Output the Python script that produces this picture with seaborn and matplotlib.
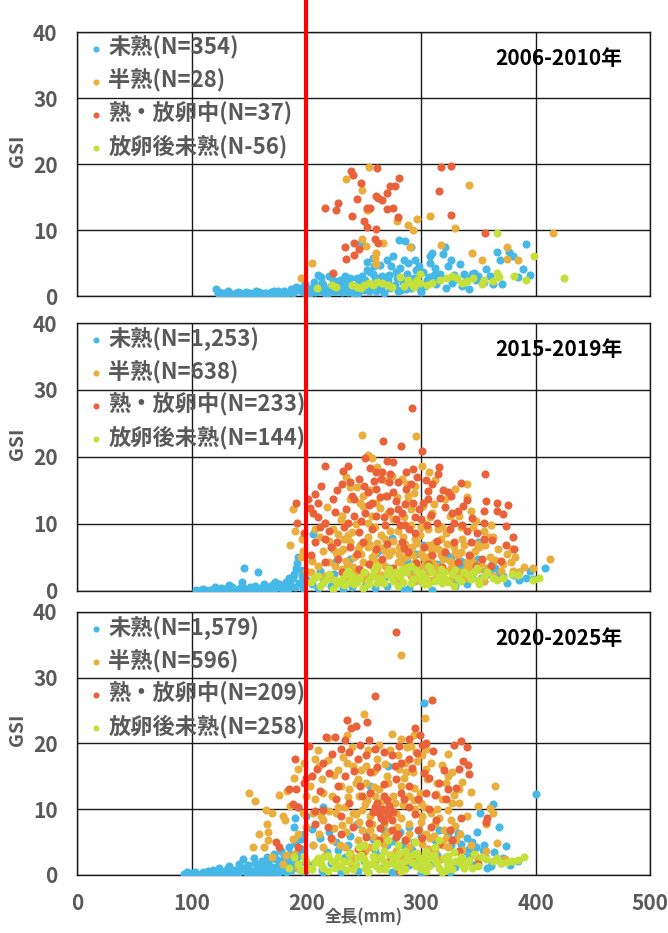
import matplotlib
matplotlib.use("Agg")
import pandas as pd
import matplotlib.pyplot as plt
import matplotlib.transforms as mtransforms
import seaborn as sns

# stage names / colours
stages = ["未熟", "半熟", "熟・放卵中", "放卵後未熟"]
colors = ["#45B8E8", "#E9AE3C", "#E9623A", "#C6E03A"]

periods = ["2006-2010年", "2015-2019年", "2020-2025年"]
legend_n = [
    ["(N=354)", "(N=28)", "(N=37)", "(N-56)"],
    ["(N=1,253)", "(N=638)", "(N=233)", "(N=144)"],
    ["(N=1,579)", "(N=596)", "(N=209)", "(N=258)"],
]

# ---- 2006-2010 (total length mm, GSI) ----
p1_imm = [(121,1.0),(123,0.4),(125,0.2),(127,0.5),(129,0.3),(131,0.2),(133,0.4),(135,0.3),(137,0.2),(139,0.5),
          (141,0.3),(143,0.4),(145,0.2),(147,0.6),(149,0.3),(151,0.4),(153,0.2),(155,0.5),(157,0.3),(159,0.6),
          (161,0.2),(163,0.4),(165,0.5),(167,0.3),(169,0.6),(171,0.4),(173,0.3),(175,0.7),(177,0.5),(179,0.4),
          (181,0.8),(183,0.5),(185,0.6),(187,1.0),(189,0.7),(191,1.4),(193,0.9),(195,1.2),(197,0.6),(199,1.8),
          (206,1.4),(210,3.2),(213,2.9),(214,2.0),(218,0.9),(220,3.0),(226,0.7),(229,2.4),(232,2.2),(235,1.2),
          (238,2.7),(241,0.5),(244,2.7),(247,2.0),(248,8.0),(250,0.9),(253,5.2),(253,4.0),(253,1.7),(257,1.2),
          (258,5.7),(260,1.9),(260,2.9),(261,0.7),(258,3.4),(264,4.7),(267,1.9),(270,5.5),(272,3.2),(273,1.2),
          (276,6.1),(277,1.7),(279,2.7),(281,8.5),(282,4.2),(285,5.5),(286,8.3),(288,3.4),(291,7.5),(291,1.2),
          (292,1.9),(295,5.5),(296,3.9),(302,3.7),(307,2.9),(308,5.0),(308,6.1),(310,6.5),(311,3.2),(317,3.4),
          (319,6.4),(321,7.5),(324,4.5),(329,3.2),(334,4.8),(345,3.3),(346,3.5),(350,3.0),(357,4.1),(366,6.6),
          (369,5.5),(371,1.8),(377,6.6),(380,6.0),(385,2.9),(389,4.1),(392,7.9),(395,3.2),
          (201,0.5),(203,1.0),(208,0.6),(212,1.2),(216,0.4),(222,1.5),(224,0.8),(230,1.0),(236,0.6),(243,1.5),
          (265,1.0),(283,0.9),(299,1.1),(304,1.5),(313,1.8),(327,2.0),(336,1.5),(340,2.6),(355,2.2),
          (203,0.4),(207,2.2),(211,0.8),(215,1.6),(219,0.5),(223,2.5),(227,1.8),(231,0.6),(234,3.0),(237,1.8),
          (240,1.0),(245,0.4),(249,3.0),(251,2.4),(255,0.8),(256,3.6),(259,4.5),(262,1.5),(266,3.0),(268,0.5),
          (271,2.4),(274,4.5),(278,3.6),(280,0.8),(284,2.2),(287,1.0),(289,5.0),(294,2.8),(298,4.6),(300,0.6),
          (305,2.4),(312,4.2),(315,2.6),(322,1.2),(326,5.5),(331,2.6),(338,3.4),(342,1.0),(348,2.4),(360,3.0),
          (363,1.8),(124,0.6),(132,0.7),(140,0.6),(148,0.2),(156,0.7),(164,0.2),(172,0.7),(180,0.3),(188,0.4)]
p1_half = [(195,2.8),(204.6,5.0),(235,17.8),(254.6,19.6),(249,16.1),(254,13.1),(249,8.6),(252,7.6),(252.6,13.0),
           (279,11.3),(289,10.8),(293,10.0),(297,11.7),(308,12.2),(342,16.8),(330,10.3),(267,8.1),(260.5,6.5),
           (260,5.7),(261,4.8),(290.6,7.5),(317.5,7.7),(345,6.5),(353,5.5),(375,7.5),(375,5.6),(385,5.5),(415,9.5)]
p1_ripe = [(238.6,19.0),(241,18.3),(248,17.1),(244,14.7),(228,14.1),(226,13.1),(216,13.4),(240,12.1),(250,11.4),
           (253,10.5),(253,13.4),(242,8.1),(234,7.5),(246,7.1),(242,6.2),(235,5.6),(223,3.5),(262,19.4),(281,17.9),
           (273,16.7),(277,16.7),(270,15.6),(260.5,15.2),(263,14.8),(266,14.5),(255.5,13.4),(270,13.2),(276,13.4),
           (280,12.0),(260.5,10.2),(260,8.6),(263,8.1),(317.5,19.6),(326,19.7),(316,15.9),(326,12.3),(355.5,9.6)]
p1_post = [(209,1.2),(222.5,1.7),(226,1.3),(240,1.7),(244,1.4),(250,1.7),(255,1.9),(258.5,1.7),(266,2.0),(271,1.7),
           (274.6,1.4),(282,2.9),(289,2.4),(292,1.8),(299.4,3.3),(299.4,1.9),(305,1.7),(317,2.5),(323,2.7),(327,3.0),
           (331.6,2.7),(340,2.3),(345.6,2.8),(355,2.5),(353,1.8),(363,2.3),(366,3.5),(368,2.9),(381,3.0),(392,2.4),
           (399,6.0),(366,9.6),(424.6,2.7),(296.5,2.4),(294,1.4),(248,1.2),(262,2.2),(285,1.5),(310,2.0),(336,2.0)]

# ---- 2015-2019 ----
p2_imm = [(104,0.1),(108,0.1),(112,0.2),(116,0.1),(120,0.6),(124,0.2),(128,0.3),(131,0.5),(133,0.9),(136,0.3),
          (139,0.2),(142,0.4),(144,1.3),(146,3.5),(148,0.3),(151,0.6),(153,0.2),(156,0.4),(158,2.9),(160,0.5),
          (162,0.2),(164,0.7),(166,0.3),(168,0.5),(170,0.9),(172,0.2),(174,0.6),(176,1.1),(178,0.4),(180,0.8),
          (182,1.4),(184,0.3),(186,1.0),(188,1.9),(190,0.6),(191,3.4),(192,4.2),(193,5.0),(194,1.2),(196,2.2),
          (197,0.5),(198,1.5),(199,2.8),
          (110,0.3),(118,0.2),(126,0.5),(135,0.6),(145,0.4),(155,0.8),(163,1.0),(173,1.3),(181,0.3),(185,2.0),
          (189,2.6),(195,3.2),(200,1.8),
          (206,8.5),(205,1.0),(210,0.5),(212,3.0),(218,2.0),(222,0.8),(226,4.5),(230,1.5),(235,3.5),(240,0.6),
          (244,5.5),(248,2.5),(252,1.0),(256,4.0),(260,0.5),(263,6.0),(268,2.0),(272,3.5),(275,7.9),(280,1.2),
          (285,0.2),(288,4.5),(292,2.8),(296,5.5),(300,1.5),(305,3.0),(310,0.2),(314,4.0),(318,2.0),(322,5.5),
          (328,1.5),(332,3.8),(338,2.5),(344,4.3),(349.5,7.3),(352,2.0),(356,3.0),(359,2.5),(365,3.5),(366,1.8),
          (372,2.2),(386,1.7),(386,2.8),(398,1.8),(408,3.4),(340,1.0),(350,4.8),(346,3.2),(362,4.0),(335,4.5),
          (330,0.8),(338,3.5),(345,2.0),(355,1.5),(360,3.2),(368,2.6),(375,1.2),(380,2.4),(392,2.0),(395,3.0),
          (290,0.4),(270,0.8),(250,0.6),(232,0.3),(215,1.8),(224,2.6),(238,4.8),(261,5.6),(283,6.2),(302,6.8),
          (326,5.0),(316,3.4)]
p2_half = [(249,23.3),(296,23.1),(254,20.3),(257,19.9),(301,18.7),(307,17.7),(340,16.0),(234.7,17.0),(244,15.5),
           (268.6,16.5),(283.6,16.7),(295,15.7),(238.4,13.7),(249.7,14.2),(261,13.2),(289,13.5),(302,12.7),
           (321,13.7),(340,14.0),(344,12.0),(325,11.2),(308,11.0),(291,12.2),(276,10.7),(253.5,10.2),(231,11.2),
           (216,10.2),(208,9.3),(188,12.2),(185.7,6.9),(197,6.0),(195,5.0),(345.8,9.5),(361,9.8),(367,6.3),
           (379.6,6.3),(382,5.0),(379,4.3),(386,2.8),(398,3.4),(412.8,4.8),(362.7,8.0),(351,6.5),(336,7.8),
           (219.6,4.3),(227,5.3),(234.7,4.5),(242,5.0),(249.7,4.3),(257,5.0),(265,4.5),(272,5.3),(280,4.3),
           (287,5.0),(295,4.3),(302,5.0),(310,4.3),(317.5,5.3),(325,4.5),(332.6,5.3),(340,4.3),(223,6.3),
           (238.4,7.3),(253.5,6.5),(268.6,7.8),(281,6.5),(295,7.8),(306,6.8),(317.5,7.8),(329,6.5),(231,3.3),
           (246,2.3),(261,2.8),(276,3.0),(291,2.3),(306,2.8),(321,3.0),(336,2.5),(216,2.3),(204.5,2.8),(210,3.8),
           (268.6,3.8),(298.6,3.5),(329,3.3),(351,3.3),(362.7,2.3),(291,9.8),(306,9.3),(265,8.3),(236.5,8.3),
           (223,9.3),(359,8.0),(344,5.3),(289,14.2),(268.6,14.2),(249.7,12.7),(257,11.2),(310,11.7),
           (230,6.0),(245,6.2),(260,5.8),(275,6.0),(290,6.0),(300,5.7),(315,6.2),(262,3.5),(285,3.6),(313,3.4),
           (220,7.5),(225,3.8),(228,8.5),(232,6.2),(236,4.0),(240,8.8),(243,3.2),(247,6.8),(251,2.7),(254,8.0),
           (258,3.6),(262,7.1),(266,2.4),(269,5.9),(273,8.9),(277,2.6),(281,5.5),(284,8.1),(288,3.1),(292,6.6),
           (296,2.0),(299,8.4),(303,3.9),(307,5.2),(311,7.2),(314,2.5),(318,6.0),(322,8.6),(326,3.5),(330,5.6),
           (334,2.9),(338,6.9),(342,3.8),(347,5.9),(352,4.2),(356,6.8),(360,5.0),(365,4.6),(370,3.0),(375,5.5),
           (230,10.6),(238,15.5),(247,13.2),(256,15.0),(264,12.4),(271,11.6),(279,14.0),(285,11.0),(294,14.6),
           (302,10.2),(311,13.0),(318,9.6),(333,11.2),(348,10.5),(355,9.0),(262,18.5),(275,17.2),(288,16.0),
           (312,16.5),(330,15.2),(222,2.0),(235,1.5),(250,1.8),(265,1.4),(280,1.9),(295,1.5),(310,1.7),(325,1.6),
           (340,1.9),(355,1.5),(372,4.0),(380,3.0),(390,3.6),(205,4.5),(200,3.0),(215,6.0),(212,8.0),(196,7.8),
           (190,9.0),(218,12.5),
           (226,5.8),(233,7.8),(241,3.6),(248,5.5),(255,7.0),(259,4.6),(267,6.4),(271,3.2),(276,7.4),(283,4.6),
           (286,7.0),(293,5.4),(297,7.2),(304,4.6),(309,6.2),(313,3.8),(319,4.8),(323,7.0),(328,4.0),(335,5.8),
           (339,3.3),(345,4.4),(349,7.0),(358,3.5),(243,10.0),(260,9.6),(280,9.0),(300,9.5),(315,9.2),(335,9.6)]
p2_ripe = [(292,27.3),(266.7,22.4),(282.9,21.7),(301,20.9),(216.6,18.7),(232,17.9),(255.7,18.3),(261,17.7),
           (266,17.7),(276,19.2),(293,18.2),(315.6,18.5),(314.5,17.4),(356,17.5),(296.8,17.0),(304.4,16.5),
           (335,16.1),(324,14.8),(326,14.2),(306,14.9),(306,13.8),(317,13.9),(357,13.4),(366.5,13.1),(366.5,12.0),
           (337,12.7),(332.6,12.0),(321.3,12.5),(190.6,13.2),(208,14.5),(201.5,13.7),(210,13.2),(206,11.7),
           (210,11.0),(192,10.2),(223,13.7),(227,15.0),(231,16.0),(238,16.2),(246,16.7),(250,15.7),(253.5,14.7),
           (261,15.2),(270,14.2),(276,14.7),(280,16.2),(287,15.2),(280,12.2),(273,12.0),(283.6,11.7),(295,11.0),
           (300.5,10.7),(313.7,10.2),(325,9.3),(329,10.2),(340,9.0),(374,9.7),(355,10.2),(374,6.9),(370,4.5),
           (381.5,6.3),(234.7,12.2),(242,11.2),(236.5,10.2),(251.6,11.7),(261,11.2),(268.6,9.8),(257,9.3),
           (245.9,8.8),(219.6,9.0),(216,7.8),(227,7.3),(238,6.5),(249.7,7.3),(261,6.3),(270,7.0),(283.6,7.3),
           (289,5.8),(303,6.5),(310,5.3),(321,5.8),(332.6,4.3),(342,5.3),(353,4.8),(361,3.8),(204.5,5.3),
           (216,4.3),(231,2.8),(246,3.3),(257,2.3),(329,7.3),(344,7.3),(355,7.8),(290,9.3),(293,13.2),
           (272,16.2),(265,16.7),(257,13.2),(242,13.7),(216,10.2),(208,7.3),(302,13.2),(278,10.7),(286,9.8),
           (225,11.8),(233,9.6),(240,14.2),(248,10.4),(255,12.8),(259,16.4),(264,14.0),(268,11.0),(273,17.4),
           (278,13.4),(282,9.8),(286,13.0),(291,15.9),(295,8.6),(298,12.3),(305,9.9),(309,11.4),(314,7.5),
           (319,15.0),(327,11.6),(336,9.8),(345,10.9),(349,8.6),(362,7.6),(228,4.7),(244,5.5),(255,4.0),(266,4.8),
           (276,3.5),(285,6.4),(296,4.2),(306,4.0),(318,3.6),(330,3.0),(348,3.8),(222,6.5),(212,9.6),(198,8.6),
           (203,12.4),(213,15.6),(236,18.6),(251,19.8),(270,19.4),(287,17.8),(310,16.0),(340,13.6),(355,12.0),
           (372,11.5),(380,8.0),(376,12.8)]
p2_post = [(204.5,1.3),(212,0.8),(217.7,1.8),(227,1.0),(231,1.8),(238.4,1.3),(246,2.0),(253.5,1.5),(257,2.3),
           (265,1.8),(270,2.5),(276,1.5),(281.7,2.3),(287,2.8),(293,1.8),(298.6,2.5),(304.4,2.0),(310,2.8),
           (315.6,2.3),(321,1.8),(327,2.5),(332.6,2.0),(338,2.8),(344,1.8),(348.5,3.5),(355,2.3),(379.6,2.5),
           (402.6,1.9),(261,3.8),(283.6,3.3),(317.5,3.3),(223,0.3),(249.7,0.5),(280,0.8),(306,1.0),(329,0.8),
           (210,2.3),(234.7,2.5),(291,3.8),(306,3.8),(351,1.0),(362.7,2.0),(242,1.0),(262,1.2),(300,1.6),(318,1.2),
           (207,2.0),(215,1.2),(220,2.6),(225,1.6),(233,0.9),(236,3.0),(240,2.2),(244,1.4),(250,2.8),(255,1.0),
           (259,3.1),(263,2.0),(268,1.2),(272,3.3),(274,2.1),(278,2.9),(284,1.4),(289,3.6),(291,1.2),(296,3.1),
           (301,2.7),(303,1.1),(308,3.4),(312,1.5),(317,2.1),(320,2.9),(324,1.3),(330,3.2),(335,1.5),(341,2.4),
           (346,2.9),(350,1.6),(358,2.8),(366,1.7),(372,2.0),(385,2.4),(398,1.6)]

# ---- 2020-2025 ----
p3_imm = [(93,0.2),(96,0.4),(99,0.3),(103,0.5),(108,0.1),(112,0.2),(116,0.4),(119,0.8),(122,0.3),(125,0.6),
          (128,0.2),(131,0.9),(134,0.4),(137,0.7),(140,0.3),(143,1.0),(145,2.5),(147,0.5),(149,1.5),(151,0.8),
          (153,0.3),(155,1.8),(157,1.1),(159,0.5),(161,2.2),(163,1.3),(165,0.6),(167,1.9),(169,0.9),(171,2.6),
          (173,0.4),(175,1.4),(177,2.1),(179,0.8),(181,3.0),(183,1.6),(185,4.2),(187,0.7),(189,2.4),(191,1.2),
          (193,3.6),(195,5.5),(197,0.6),(199,2.0),(110,0.5),(127,0.5),(139,0.6),(152,0.4),(164,0.3),(176,0.5),
          (186,1.8),(105,0.2),(114,0.6),(118,0.2),(124,1.0),(130,0.4),(133,1.3),(136,0.2),(141,1.6),(146,1.0),
          (150,0.3),(154,2.6),(156,0.4),(160,1.4),(162,0.3),(166,2.8),(168,0.4),(170,1.2),(172,3.2),(174,2.4),
          (176,0.9),(178,3.6),(180,1.8),(182,0.5),(184,2.6),(186,3.2),(188,1.4),(190,4.8),(192,2.8),(194,0.9),
          (196,3.9),(198,6.2),(200,0.8),
          (203,1.5),(206,4.5),(210,2.5),(214,0.7),(218,3.5),(222,1.8),(226,5.0),(230,0.5),(234,2.8),
          (238,6.0),(242,1.2),(246,4.0),(250,2.2),(254,0.4),(258,5.5),(262,3.0),(266,1.0),(270,4.5),(274,2.0),
          (278,0.3),(282,6.5),(286,3.5),(290,1.5),(294,5.0),(298,2.5),(302,0.8),(306,4.0),(310,1.8),(314,3.0),
          (318,0.5),(322,2.8),(326,4.5),(330,1.2),(334,3.5),(338,2.0),(342,4.0),(346,1.5),(350,2.5),(354,3.8),
          (358,1.0),(362,2.0),(370,1.8),(378,1.5),(330,5.5),(345,5.0),(355,4.5),
          (205,7.0),(212,5.6),(220,6.5),(228,3.8),(236,4.6),(244,7.8),(252,6.2),(260,3.8),(268,6.8),(276,5.2),
          (284,4.5),(292,3.8),(300,6.0),(308,2.6),(316,6.8),(324,1.6),(332,6.4),(340,5.6),(348,4.2),(356,2.8),
          (364,3.5),(372,2.6),(215,0.4),(245,0.6),(275,0.5),(300,0.3),(325,0.4),
          (400,12.3),(303,26.2),(362.7,10.8),(351.5,9.4),(368.4,7.3),(349,6.6),(374,4.4),(384.4,2.2),(361,1.4),
          (342,2.7),(192.6,10.4),(190,8.7),(188.9,7.3),(200,8.9),(215,10.4),(256,13.5),(271,16.6),(312,5.3),
          (289.8,7.3),(323.5,6.3),(334.7,4.7),(338,3.7)]
p3_half = [(282.3,33.5),(250.6,24.5),(304,23.9),(274.9,21.5),(283,20.7),(293.6,21.3),(288,19.5),(295.4,18.7),
           (301,18.2),(304.8,19.2),(323.5,18.4),(218.8,20.9),(235.6,21.3),(263.6,19.7),(207.6,17.7),(211.2,16.6),
           (235.6,17.1),(241,16.6),(252.4,16.6),(258,15.6),(269,16.9),(280.5,16.1),(292.8,15.6),(304.8,16.1),
           (314,14.0),(321.6,14.0),(332.8,13.0),(364.6,13.5),(332.8,10.9),(323.5,9.9),(308.5,9.4),(299,12.5),
           (289.8,12.0),(282.3,13.5),(271,14.0),(263.6,13.0),(252.4,14.0),(245,14.6),(237.5,13.0),(230,13.5),
           (222.5,12.0),(215,12.5),(207.6,11.5),(205.7,9.4),(215,8.4),(226,9.4),(233.7,10.4),(241,9.4),(248.7,9.9),
           (256,8.9),(267.4,7.8),(278.6,9.4),(289.8,7.8),(301,8.9),(312,7.8),(319.8,6.8),(325,6.8),(331,5.3),
           (362.7,9.4),(357,7.8),(373,2.4),(149.6,12.5),(155,11.2),(158.9,6.3),(166.3,6.6),(165.6,7.8),(164.5,9.9),
           (170,9.4),(179.5,8.9),(181.4,8.4),(175.8,12.2),(183,12.7),(188.9,14.8),(192.6,16.1),(198,17.1),
           (166.4,5.3),(162.7,4.2),(153.3,4.2),(170,2.7),(179.5,1.7),(188.9,3.2),(192.6,6.3),(200,7.3),(211.2,6.3),
           (222.5,5.3),(233.7,4.2),(245,5.3),(256,4.2),(267.4,4.7),(278.6,3.7),(289.8,4.2),(301,4.7),(312,3.7),
           (323.5,4.2),(304.8,6.3),(327,10.9),(327,15.6),(260,12.0),(286,17.1),(237.5,8.4),(256,6.8),(192.6,1.1),
           (317.8,2.4),(357,3.7),(228,16.0),(246,12.0),(272,10.5),(295,10.0),(318,11.5),(260,16.0),(285,14.8),
           (203,13.5),(210,19.0),(214,14.6),(219,17.5),(224,15.2),(228,10.3),(232,17.9),(236,11.8),(240,19.4),
           (243,14.0),(248,16.0),(251,10.8),(254,19.0),(259,13.4),(262,17.6),(266,11.2),(270,15.0),(273,19.0),
           (276,12.0),(280,18.2),(284,10.6),(287,15.6),(291,19.6),(294,13.2),(297,17.4),(300,11.0),(305,14.6),
           (309,17.0),(313,12.3),(318,16.8),(324,15.0),(329,12.1),(336,14.2),(344,12.6),(350,10.5),(360,10.2),
           (206,4.5),(213,8.9),(218,3.0),(224,7.2),(229,4.6),(235,6.5),(240,2.8),(246,8.0),(251,3.6),(257,7.8),
           (262,2.8),(268,6.0),(273,3.0),(279,7.3),(284,2.6),(290,6.3),(295,3.0),(300,8.0),(306,4.0),(311,6.0),
           (316,8.6),(322,5.6),(330,7.5),(336,3.8),(344,4.6),(350,2.6),(366,4.8),(188,5.5),(182,3.0),(197,9.5),
           (200,12.0),(186,10.5),
           (215,4.2),(220,9.8),(231,7.6),(238,3.4),(243,9.2),(249,6.8),(253,11.4),(259,5.8),(265,9.0),(271,6.6),
           (277,11.0),(283,8.6),(288,5.4),(294,11.4),(298,6.8),(303,10.4),(308,5.6),(314,10.0),(319,4.6),(326,8.4),
           (334,6.2),(340,9.0)]
p3_ripe = [(277.9,37.0),(260,27.2),(310,26.6),(253,23.3),(235.6,23.6),(238.6,22.3),(243,22.6),(294.7,22.4),
           (289.8,20.7),(299,21.3),(301,19.7),(304.8,20.0),(334.7,20.3),(329,19.8),(336.5,17.4),(341,16.7),
           (342,15.3),(332.8,16.1),(217.6,21.0),(225,21.0),(202.7,19.6),(190,17.7),(185,13.0),(188,10.8),
           (193,10.4),(200,14.8),(205,15.1),(209.4,16.1),(215,17.1),(222.5,18.4),(230,19.2),(237.5,18.7),
           (245,17.7),(252.4,18.2),(260,19.2),(267.4,18.7),(275,18.2),(282.3,17.1),(289.8,17.7),(310.4,18.8),
           (306.7,14.8),(316,14.0),(323.5,13.0),(331,13.3),(321.6,11.5),(334.7,8.6),(357,8.1),(358,8.6),
           (304.8,12.5),(297.3,11.5),(289.8,10.4),(267.4,9.9),(260,10.4),(263.6,9.4),(271,9.1),(265.5,8.6),
           (275,8.4),(256,12.5),(248.7,12.0),(237.5,10.9),(226,11.5),(215,9.9),(207.6,7.8),(218.8,7.3),(230,6.3),
           (241,7.3),(252.4,5.8),(263.6,5.3),(275,6.8),(286,5.3),(297.3,6.8),(308.5,7.3),(316,4.7),(327,5.3),
           (346,3.2),(349.7,1.7),(246.8,13.5),(233.7,15.1),(256,15.6),(278.6,14.6),(289.8,13.5),(282.3,12.5),
           (267.4,12.0),(278,5.8),(192.6,4.2),(175.8,4.2),(174,5.0),(280.5,0.6),(248.7,3.2),(304.8,3.2),(260,2.2),
           (212,12.8),(220,15.5),(228,13.6),(234,20.5),(242,15.8),(247,19.8),(255,20.6),(262,16.4),(268,13.8),
           (272,10.5),(277,16.5),(281,19.6),(285,11.6),(292,16.2),(297,18.6),(303,15.5),(307,10.0),(312,12.2),
           (320,16.0),(340,19.4),(262,11.0),(266,10.0),(270,11.4),(268,8.2),(273,10.0),(258,9.6),(276,9.6),
           (264,7.2),(280,6.2),(255,7.9),(230,9.0),(222,5.6),(245,4.0),(295,9.2),(301,5.6),(313,8.4),(325,6.8),
           (333,3.6),(292,2.8),(240,1.6),(270,2.0),(285,1.2),(208,9.8),(198,14.0),(191,13.0)]
p3_post = [(390,2.8),(379.6,2.2),(362.7,2.2),(357,2.4),(346.7,3.2),(338,1.1),(331,2.2),(323.5,1.7),(316,1.1),
           (318,0.4),(316,5.3),(308.5,2.7),(301,1.9),(293.6,3.2),(286,2.2),(278.6,2.7),(271,1.7),(267.4,3.7),
           (260,2.4),(252.4,1.7),(254,0.4),(245,2.7),(237.5,1.9),(230,1.4),(222.5,2.2),(215,1.1),(207.6,1.9),
           (202,1.1),(192.6,1.7),(185,1.1),(188.9,2.7),(215,2.7),(237.5,3.2),(260,4.2),(271,5.3),(286,3.7),
           (304.8,3.7),(323.5,2.9),(334.7,2.7),(349.7,1.4),(218.8,0.6),(241,0.9),(263.6,0.9),(286,0.9),
           (304.8,0.6),(256,1.7),(278.6,1.4),(295.4,1.4),(200,2.2),(304.8,1.9),(327,0.9),(246,4.2),
           (226,1.6),(250,2.4),(268,2.0),(283,1.8),(298,2.6),(312,2.3),(340,2.0),(370,1.8),
           (195,0.8),(198,2.8),(205,0.9),(210,2.6),(213,1.7),(219,2.9),(225,1.1),(228,2.8),(233,2.2),(235,0.7),
           (243,1.6),(248,3.0),(251,1.1),(258,2.9),(261,1.3),(265,2.7),(269,0.9),(273,3.0),(276,2.2),(281,3.3),
           (283,0.6),(289,2.9),(292,1.9),(297,3.4),(300,0.9),(303,2.8),(307,1.3),(311,3.0),(314,1.8),(320,2.6),
           (322,0.8),(326,2.0),(329,3.5),(335,1.6),(342,2.3),(345,1.0),(353,2.7),(366,2.6),(375,2.0),(385,2.3),
           (262,4.8),(280,4.6),(295,5.0),(312,4.3),(250,4.5)]

panel_data = [
    [p1_imm, p1_half, p1_ripe, p1_post],
    [p2_imm, p2_half, p2_ripe, p2_post],
    [p3_imm, p3_half, p3_ripe, p3_post],
]

sns.set_style("white")
plt.rcParams["font.family"] = ["Noto Sans CJK JP", "DejaVu Sans"]
gray = "#595959"

fig = plt.figure(figsize=(6.68, 9.33), dpi=100)
# axes boxes (left, bottom, width, height) in figure fractions
boxes = [(0.1153, 0.6827, 0.858, 0.283),
         (0.1153, 0.3666, 0.858, 0.2872),
         (0.1153, 0.0622, 0.858, 0.2819)]

axes = []
for i, box in enumerate(boxes):
    ax = fig.add_axes(box)
    axes.append(ax)
    for j, pts in enumerate(panel_data[i]):
        df = pd.DataFrame(pts, columns=["tl", "gsi"])
        sns.scatterplot(data=df, x="tl", y="gsi", color=colors[j], s=34, linewidth=0,
                        label=stages[j] + legend_n[i][j], ax=ax, zorder=3)
    ax.set_xlim(0, 500)
    ax.set_ylim(0, 40)
    ax.set_xticks(range(0, 501, 100))
    ax.set_yticks(range(0, 41, 10))
    ax.grid(True, color="#1a1a1a", linewidth=1.0, zorder=0)
    ax.set_axisbelow(True)
    for sp in ax.spines.values():
        sp.set_color("#1a1a1a")
        sp.set_linewidth(1.0)
    ax.tick_params(axis="x", direction="out", length=4, color="#1a1a1a",
                   labelsize=15, labelcolor=gray, pad=9)
    ax.tick_params(axis="y", length=0, labelsize=15, labelcolor=gray, pad=14)
    for lab in ax.get_xticklabels() + ax.get_yticklabels():
        lab.set_fontweight("bold")
    ax.set_ylabel("GSI", fontsize=14, fontweight="bold", color=gray)
    ax.yaxis.set_label_coords(-0.088, 0.55)
    ax.set_xlabel("")
    if i < 2:
        ax.tick_params(axis="x", labelbottom=False)
    ax.text(0.952, 0.90, periods[i], transform=ax.transAxes, ha="right", va="center",
            fontsize=15, fontweight="bold", color="black")
    leg = ax.legend(loc="upper left", bbox_to_anchor=(0.012, 1.0), frameon=False, fontsize=16,
                    markerscale=0.75, handletextpad=0.2, labelspacing=0.42, borderaxespad=0.1,
                    handlelength=0.7, borderpad=0.1)
    for t in leg.get_texts():
        t.set_color(gray)
        t.set_fontweight("bold")

axes[2].set_xlabel("全長(mm)", fontsize=12, fontweight="bold", color=gray, labelpad=-4)

# red reference line at 200 mm running through all panels
trans = mtransforms.blended_transform_factory(axes[2].transData, fig.transFigure)
fig.add_artist(plt.Line2D([200, 200], [1.0, 1 - 873 / 933], transform=trans,
                          color="#FF0000", linewidth=3, zorder=10))

fig.savefig("out.png", dpi=100)
